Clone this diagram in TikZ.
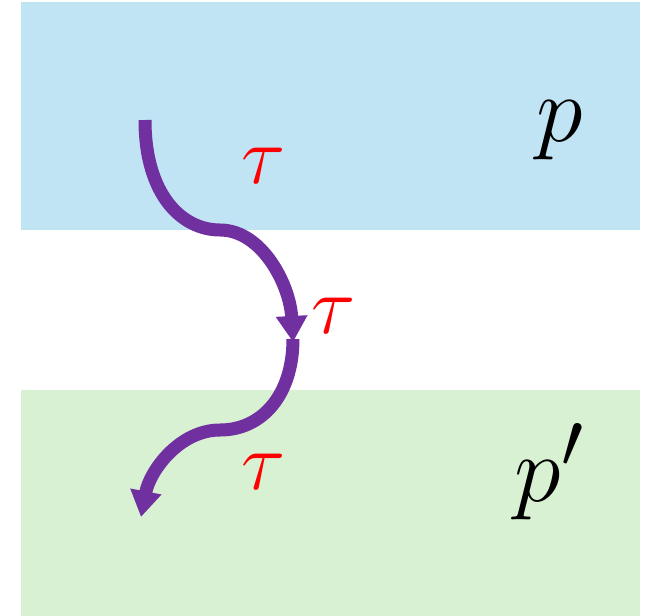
\documentclass[tikz,border=0pt]{standalone}
\usetikzlibrary{arrows.meta}
\definecolor{topblue}{HTML}{C1E4F5}
\definecolor{botgreen}{HTML}{D9F1D3}
\definecolor{arrowpurple}{HTML}{7030A0}
\newcommand{\bigtau}{\scalebox{3.3}{\Huge$\tau$}}
\newcommand{\bigp}[1]{\scalebox{3.8}{\Huge$#1$}}
\begin{document}
\begin{tikzpicture}[x=1pt,y=-1pt,
  region/.style={fill=#1,draw=none},
  flow/.style={draw=arrowpurple,line width=13pt,-{Triangle[length=26pt,width=30pt]}},
  taulabel/.style={text=red,inner sep=0pt},
  plabel/.style={text=black,inner sep=0pt}]
\useasboundingbox (0,0) rectangle (654,616);
\fill[region=topblue] (21,2) rectangle (640,230);
\fill[region=botgreen] (21,390) rectangle (640,616);
\coordinate (s) at (145,120);
\coordinate (m1) at (220,230);
\coordinate (mid) at (293,342);
\coordinate (m2) at (220,430);
\coordinate (e) at (141,517);
\draw[flow] (s) .. controls (145,195) and (182,230) .. (m1) .. controls (262,230) and (290,285) .. (mid);
\draw[flow] (293,339) .. controls (293,395) and (262,430) .. (m2) .. controls (180,430) and (150,470) .. (e);
\node[taulabel] (t1) at (264,166) {\bigtau};
\node[taulabel] (t2) at (334,316) {\bigtau};
\node[taulabel] (t3) at (264,472) {\bigtau};
\node[plabel] (p) at (560,130) {\bigp{p}};
\node[plabel] (pp) at (550,472) {\bigp{p'}};
\end{tikzpicture}
\end{document}
